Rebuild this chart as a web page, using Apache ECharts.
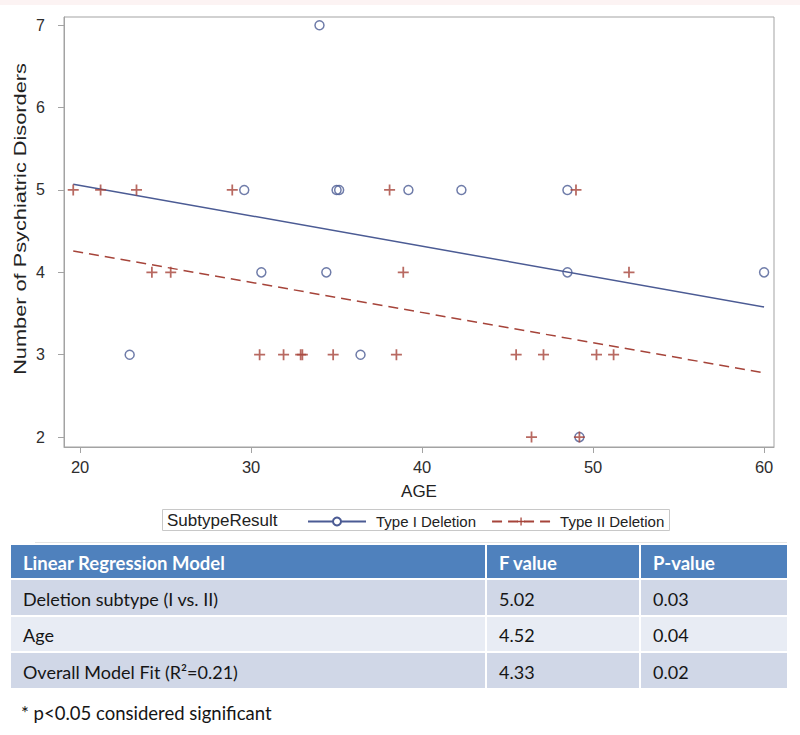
<!DOCTYPE html>
<html><head><meta charset="utf-8">
<script src="https://cdn.jsdelivr.net/npm/echarts@6/dist/echarts.min.js"></script>
<style>html,body{margin:0;padding:0;background:#fff}#c{width:800px;height:735px}</style>
</head><body><div id="c"></div>
<script>
// ---- data ----
const typeIAge = [34.0, 29.6, 35.0, 35.15, 39.2, 42.3, 48.5, 30.6, 34.4, 48.5, 60.0, 22.9, 36.4, 49.2];
const typeICount = [7, 5, 5, 5, 5, 5, 5, 4, 4, 4, 4, 3, 3, 2];
const typeIIAge = [19.6, 21.2, 23.3, 28.9, 38.1, 49.0, 24.2, 25.3, 38.9, 52.1, 30.5, 31.9, 32.9, 33.0, 34.8, 38.5, 45.5, 47.1, 50.2, 51.2, 46.4, 49.2];
const typeIICount = [5, 5, 5, 5, 5, 5, 4, 4, 4, 4, 3, 3, 3, 3, 3, 3, 3, 3, 3, 3, 2, 2];
const fitAge = [19.6, 60];
const fitTypeI = [5.07, 3.58];
const fitTypeII = [4.26, 2.78];
const xTicks = [20, 30, 40, 50, 60];
const yTicks = [2, 3, 4, 5, 6, 7];
const seriesNames = ['Type I Deletion', 'Type II Deletion'];
const legendTitle = 'SubtypeResult';
const xTitle = 'AGE';
const yTitle = 'Number of Psychiatric Disorders';
const tableHeader = ['Linear Regression Model', 'F value', 'P-value'];
const rowLabels = ['Deletion subtype (I vs. II)', 'Age', 'Overall Model Fit (R\u00B2=0.21)'];
const fValues = ['5.02', '4.52', '4.33'];
const pValues = ['0.03', '0.04', '0.02'];
const footnote = '* p<0.05 considered significant';

// ---- styling ----
const BLUE = '#4B5B94';
const RED = '#A6443A';
const PLUS = 'path://M4.2,0H5.8V4.2H10V5.8H5.8V10H4.2V5.8H0V4.2H4.2Z';
const zip = (a, b) => a.map((v, i) => [v, b[i]]);

const chart = echarts.init(document.getElementById('c'), null, {renderer: 'svg'});

// table graphics built from the table arrays
const colX = [11, 487, 641], colW = [474, 152, 146];
const rowY = [545, 580, 617, 653], rowH = [33, 35, 34, 35];
const rowFill = ['#4F81BD', '#D0D7E7', '#E8ECF4', '#D0D7E7'];
const tableRows = [tableHeader].concat(rowLabels.map((l, i) => [l, fValues[i], pValues[i]]));
const graphics = [];
graphics.push({type: 'rect', shape: {x: 0, y: 0, width: 800, height: 5}, style: {fill: '#FCF3F3'}, silent: true});
graphics.push({type: 'rect', shape: {x: 35, y: 542, width: 752, height: 1}, style: {fill: '#E4E4E4'}, silent: true});
tableRows.forEach((row, r) => {
  row.forEach((txt, c) => {
    graphics.push({type: 'rect', shape: {x: colX[c], y: rowY[r], width: colW[c], height: rowH[r]},
      style: {fill: rowFill[r]}, silent: true});
    graphics.push({type: 'text', x: colX[c] + 12, y: rowY[r] + rowH[r] / 2 + 1,
      style: {text: txt, fill: r === 0 ? '#FFFFFF' : '#151515',
        font: (r === 0 ? 'bold 18.5px' : '18px') + ' Lato, sans-serif',
        textVerticalAlign: 'middle', textAlign: 'left'}, silent: true});
  });
});
graphics.push({type: 'text', x: 21, y: 713, style: {text: footnote, fill: '#151515',
  font: '18.5px Lato, sans-serif', textVerticalAlign: 'middle'}, silent: true});
// legend frame + title
graphics.push({type: 'rect', shape: {x: 162.5, y: 509.5, width: 507, height: 21},
  style: {fill: 'none', stroke: '#C8C8C8', lineWidth: 1}, silent: true});
graphics.push({type: 'text', x: 167, y: 520.5, style: {text: legendTitle, fill: '#222',
  font: '17px "Liberation Sans", Arial, sans-serif', textVerticalAlign: 'middle'}, silent: true});
// y axis title
graphics.push({type: 'text', x: 21, y: 219, rotation: Math.PI / 2, scaleX: 1.36,
  style: {text: yTitle, fill: '#222', font: '16px "Liberation Sans", Arial, sans-serif',
    textAlign: 'center', textVerticalAlign: 'middle'}, silent: true});

const axisCommon = {
  axisLine: {show: true, lineStyle: {color: '#A3A3A3', width: 1}},
  axisTick: {show: true, length: 6, lineStyle: {color: '#A3A3A3'}},
  splitLine: {show: false}
};

chart.setOption({
  animation: false,
  textStyle: {fontFamily: '"Liberation Sans", Arial, sans-serif'},
  grid: {left: 64, right: 26, top: 17, bottom: 288, show: true, borderColor: '#A3A3A3', borderWidth: 1},
  xAxis: Object.assign({}, axisCommon, {
    type: 'value', min: 19.06, max: 60.58,
    axisTick: Object.assign({}, axisCommon.axisTick, {customValues: xTicks}),
    axisLabel: {customValues: xTicks, fontSize: 16.5, color: '#2e2e2e', margin: 11},
    name: xTitle, nameLocation: 'middle', nameGap: 36,
    nameTextStyle: {fontSize: 17, color: '#222'}
  }),
  yAxis: Object.assign({}, axisCommon, {
    type: 'value', min: 1.88, max: 7.1,
    axisTick: Object.assign({}, axisCommon.axisTick, {customValues: yTicks}),
    axisLabel: {customValues: yTicks, fontSize: 16, color: '#2e2e2e', margin: 19}
  }),
  legend: {
    data: seriesNames, left: 302, top: 509, itemWidth: 58, itemHeight: 10, itemGap: 15,
    textStyle: {fontSize: 15, color: '#222', padding: [0, 0, 0, 5]}
  },
  graphic: graphics,
  series: [
    {name: seriesNames[0], type: 'line', data: zip(fitAge, fitTypeI), symbol: 'emptyCircle', symbolSize: 8,
      showSymbol: false, itemStyle: {color: BLUE}, lineStyle: {color: BLUE, width: 1.5}, z: 2, silent: true},
    {name: seriesNames[1], type: 'line', data: zip(fitAge, fitTypeII), symbol: PLUS, symbolSize: 9,
      showSymbol: false, itemStyle: {color: RED}, lineStyle: {color: RED, width: 1.5, type: [10, 6]}, z: 2, silent: true},
    {name: seriesNames[0], type: 'scatter', data: zip(typeIAge, typeICount), symbol: 'circle', symbolSize: 9,
      itemStyle: {color: 'rgba(0,0,0,0)', borderColor: BLUE, borderWidth: 1.5}, z: 3},
    {name: seriesNames[1], type: 'scatter', data: zip(typeIIAge, typeIICount), symbol: PLUS, symbolSize: 11,
      itemStyle: {color: RED}, z: 4}
  ]
});
</script></body></html>
